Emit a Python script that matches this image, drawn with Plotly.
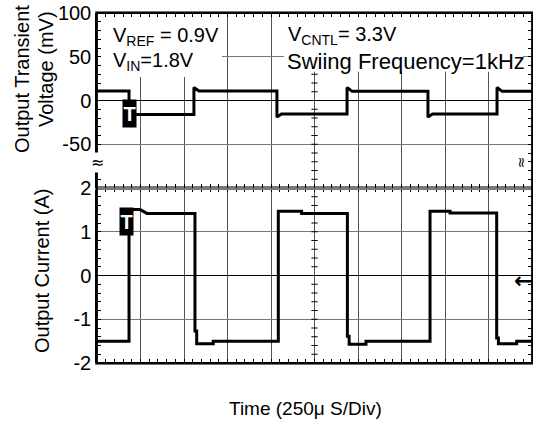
import plotly.graph_objects as go

# ---------------- data ----------------
# time in microseconds (250 us / div, 10 divisions)
volt_t = [0, 184, 184, 557, 557, 586, 1034, 1034, 1060, 1437, 1437, 1466,
          1902, 1902, 1928, 2299, 2299, 2328, 2500]
volt_mv = [11, 11, -16, -16, 15, 11, 11, -19, -15.5, -15.5, 15, 10.5,
           10.5, -19, -15.5, -15.5, 15, 10.5, 10.5]

curr_t = [0, 184, 184, 247, 287, 563, 563, 573, 573, 668, 668, 1042, 1042,
          1176, 1176, 1439, 1439, 1449, 1449, 1546, 1546, 1914, 1914, 2029,
          2029, 2297, 2297, 2307, 2307, 2412, 2412, 2500]
curr_a = [-1.5, -1.5, 1.51, 1.51, 1.42, 1.42, -1.27, -1.27, -1.56, -1.56,
          -1.5, -1.5, 1.47, 1.47, 1.42, 1.42, -1.39, -1.39, -1.57, -1.57,
          -1.5, -1.5, 1.47, 1.47, 1.43, 1.43, -1.43, -1.43, -1.56, -1.56,
          -1.5, -1.5]

v_tickvals = [100, 50, 0, -50]
v_ticktext = ["100", "50", "0", "-50"]
i_tickvals = [2, 1, 0, -1, -2]
i_ticktext = ["2", "1", "0", "-1", "-2"]

x_range = [0, 2500]
x_div = 250
v_range = [-100, 100]
v_div = 50
i_range = [-2, 2]
i_div = 1

FONT = "Liberation Sans, Arial, sans-serif"

fig = go.Figure()
fig.add_trace(go.Scatter(x=curr_t, y=curr_a, mode="lines",
                         line=dict(color="black", width=3),
                         xaxis="x", yaxis="y", hoverinfo="skip"))
fig.add_trace(go.Scatter(x=volt_t, y=volt_mv, mode="lines",
                         line=dict(color="black", width=3),
                         xaxis="x2", yaxis="y2", hoverinfo="skip"))

common_x = dict(range=x_range, dtick=x_div, tick0=0, showticklabels=False,
                showgrid=True, gridcolor="#555555", gridwidth=1,
                ticks="inside", ticklen=4, tickcolor="black", tickwidth=1,
                minor=dict(dtick=x_div / 5, tick0=0, ticks="inside", ticklen=4,
                           tickcolor="black", tickwidth=1, showgrid=False),
                showline=True, linecolor="#777777", linewidth=1.5,
                mirror="ticks", zeroline=False, fixedrange=True)
common_y = dict(showgrid=True, gridcolor="#777777", gridwidth=1,
                ticks="inside", ticklen=4, tickcolor="black", tickwidth=1,
                showline=True, linecolor="black", linewidth=1.5,
                mirror="ticks", zeroline=True, zerolinecolor="black",
                zerolinewidth=1.2, fixedrange=True, automargin=False,
                tickfont=dict(family=FONT, size=20, color="black"))

fig.update_layout(
    width=533, height=423,
    margin=dict(l=97, r=1, t=13, b=60, autoexpand=False),
    paper_bgcolor="white", plot_bgcolor="white",
    showlegend=False,
    font=dict(family=FONT, size=20, color="black"),
    xaxis=dict(domain=[0, 1], anchor="y", **common_x),
    xaxis2=dict(domain=[0, 1], anchor="y2", matches="x", **common_x),
    yaxis=dict(domain=[0, 0.5], anchor="x", range=i_range,
               tickmode="array", tickvals=i_tickvals, ticktext=i_ticktext,
               minor=dict(dtick=i_div / 5, tick0=0, ticks="inside", ticklen=4,
                          tickcolor="black", showgrid=False),
               **common_y),
    yaxis2=dict(domain=[0.5, 1], anchor="x2", range=v_range,
                tickmode="array", tickvals=v_tickvals, ticktext=v_ticktext,
                minor=dict(dtick=v_div / 5, tick0=0, ticks="inside", ticklen=4,
                           tickcolor="black", showgrid=False),
                **common_y),
)

shapes = []
# gridline at the centre horizontal
shapes.append(dict(type="line", xref="paper", yref="paper", x0=0, x1=1, y0=0.5, y1=0.5,
                   line=dict(color="#777777", width=1.2), layer="between"))
# crossing ticks on the centre vertical line
xc = (x_range[0] + x_range[1]) / 2
dx = 18
k = 1
while v_range[0] + k * v_div / 5 < v_range[1] - 1e-9:
    yv = v_range[0] + k * v_div / 5
    shapes.append(dict(type="line", xref="x2", yref="y2", x0=xc - dx, x1=xc + dx,
                       y0=yv, y1=yv, line=dict(color="black", width=1), layer="between"))
    k += 1
k = 1
while i_range[0] + k * i_div / 5 < i_range[1] - 1e-9:
    yi = i_range[0] + k * i_div / 5
    shapes.append(dict(type="line", xref="x", yref="y", x0=xc - dx, x1=xc + dx,
                       y0=yi, y1=yi, line=dict(color="black", width=1), layer="between"))
    k += 1
# white boxes behind the annotation texts (over grid, under axis ticks)
shapes.append(dict(type="rect", xref="x2", yref="y2", x0=2, x1=718, y0=27, y1=99,
                   fillcolor="white", line=dict(width=0), layer="between"))
shapes.append(dict(type="rect", xref="x2", yref="y2", x0=1075, x1=2448, y0=33, y1=99,
                   fillcolor="white", line=dict(width=0), layer="between"))
# outer border
shapes.append(dict(type="rect", xref="paper", yref="paper", x0=0, x1=1, y0=0, y1=1,
                   line=dict(color="black", width=1.8), layer="above"))
fig.update_layout(shapes=shapes)

ann = []
txt = dict(family=FONT, size=20, color="black")
ann.append(dict(xref="x2", yref="y2", x=80, y=73, xanchor="left", yanchor="middle",
                text="V<sub>REF</sub> = 0.9V", showarrow=False, font=txt))
ann.append(dict(xref="x2", yref="y2", x=80, y=45, xanchor="left", yanchor="middle",
                text="V<sub>IN</sub>=1.8V", showarrow=False, font=txt))
ann.append(dict(xref="x2", yref="y2", x=1086, y=74, xanchor="left", yanchor="middle",
                text="V<sub>CNTL</sub>= 3.3V", showarrow=False, font=txt))
ann.append(dict(xref="x2", yref="y2", x=1078, y=44.5, xanchor="left", yanchor="middle",
                text="Swiing Frequency=1kHz", showarrow=False,
                font=dict(family=FONT, size=22, color="black")))
# trigger markers
ann.append(dict(xref="x2", yref="y2", x=186, y=-15, text="<b>T</b>", showarrow=False,
                bgcolor="black", width=13, height=27, borderpad=0,
                font=dict(family=FONT, size=20, color="white")))
ann.append(dict(xref="x", yref="y", x=172, y=1.245, text="<b>T</b>", showarrow=False,
                bgcolor="black", width=13, height=27, borderpad=0,
                font=dict(family=FONT, size=20, color="white")))
# ground arrow
ann.append(dict(xref="paper", yref="y", x=1.003, y=-0.11, xanchor="right", yanchor="middle",
                text="<b>←</b>", showarrow=False, borderpad=0,
                font=dict(family="DejaVu Sans", size=22, color="black")))
# break marks
ann.append(dict(xref="paper", yref="y2", x=0, y=-71, xanchor="center", yanchor="middle",
                text="≈", showarrow=False, bgcolor="white", borderpad=0,
                font=dict(family="DejaVu Sans", size=16, color="black")))
ann.append(dict(xref="paper", yref="y2", x=0.998, y=-71, xanchor="right", yanchor="middle",
                text="≈", showarrow=False, textangle=90, borderpad=0,
                font=dict(family="DejaVu Sans", size=14, color="black")))
# axis titles
ann.append(dict(xref="paper", yref="paper", x=(22 - 97) / 435, y=1 - (79 - 13) / 350,
                text="Output Transient", textangle=-90, showarrow=False, font=txt,
                xanchor="center", yanchor="middle"))
ann.append(dict(xref="paper", yref="paper", x=(46 - 97) / 435, y=1 - (69 - 13) / 350,
                text="Voltage (mV)", textangle=-90, showarrow=False, font=txt,
                xanchor="center", yanchor="middle"))
ann.append(dict(xref="paper", yref="paper", x=(42 - 97) / 435, y=1 - (270 - 13) / 350,
                text="Output Current (A)", textangle=-90, showarrow=False, font=txt,
                xanchor="center", yanchor="middle"))
ann.append(dict(xref="paper", yref="paper", x=(305 - 97) / 435, y=1 - (408 - 13) / 350,
                text="Time (250μ S/Div)", showarrow=False,
                font=dict(family=FONT, size=19, color="black"),
                xanchor="center", yanchor="middle"))
fig.update_layout(annotations=ann)

fig.write_html("out.html", config={"displayModeBar": False},
               post_script="document.body.style.margin='0px';"
                           "document.body.style.overflow='hidden';")
